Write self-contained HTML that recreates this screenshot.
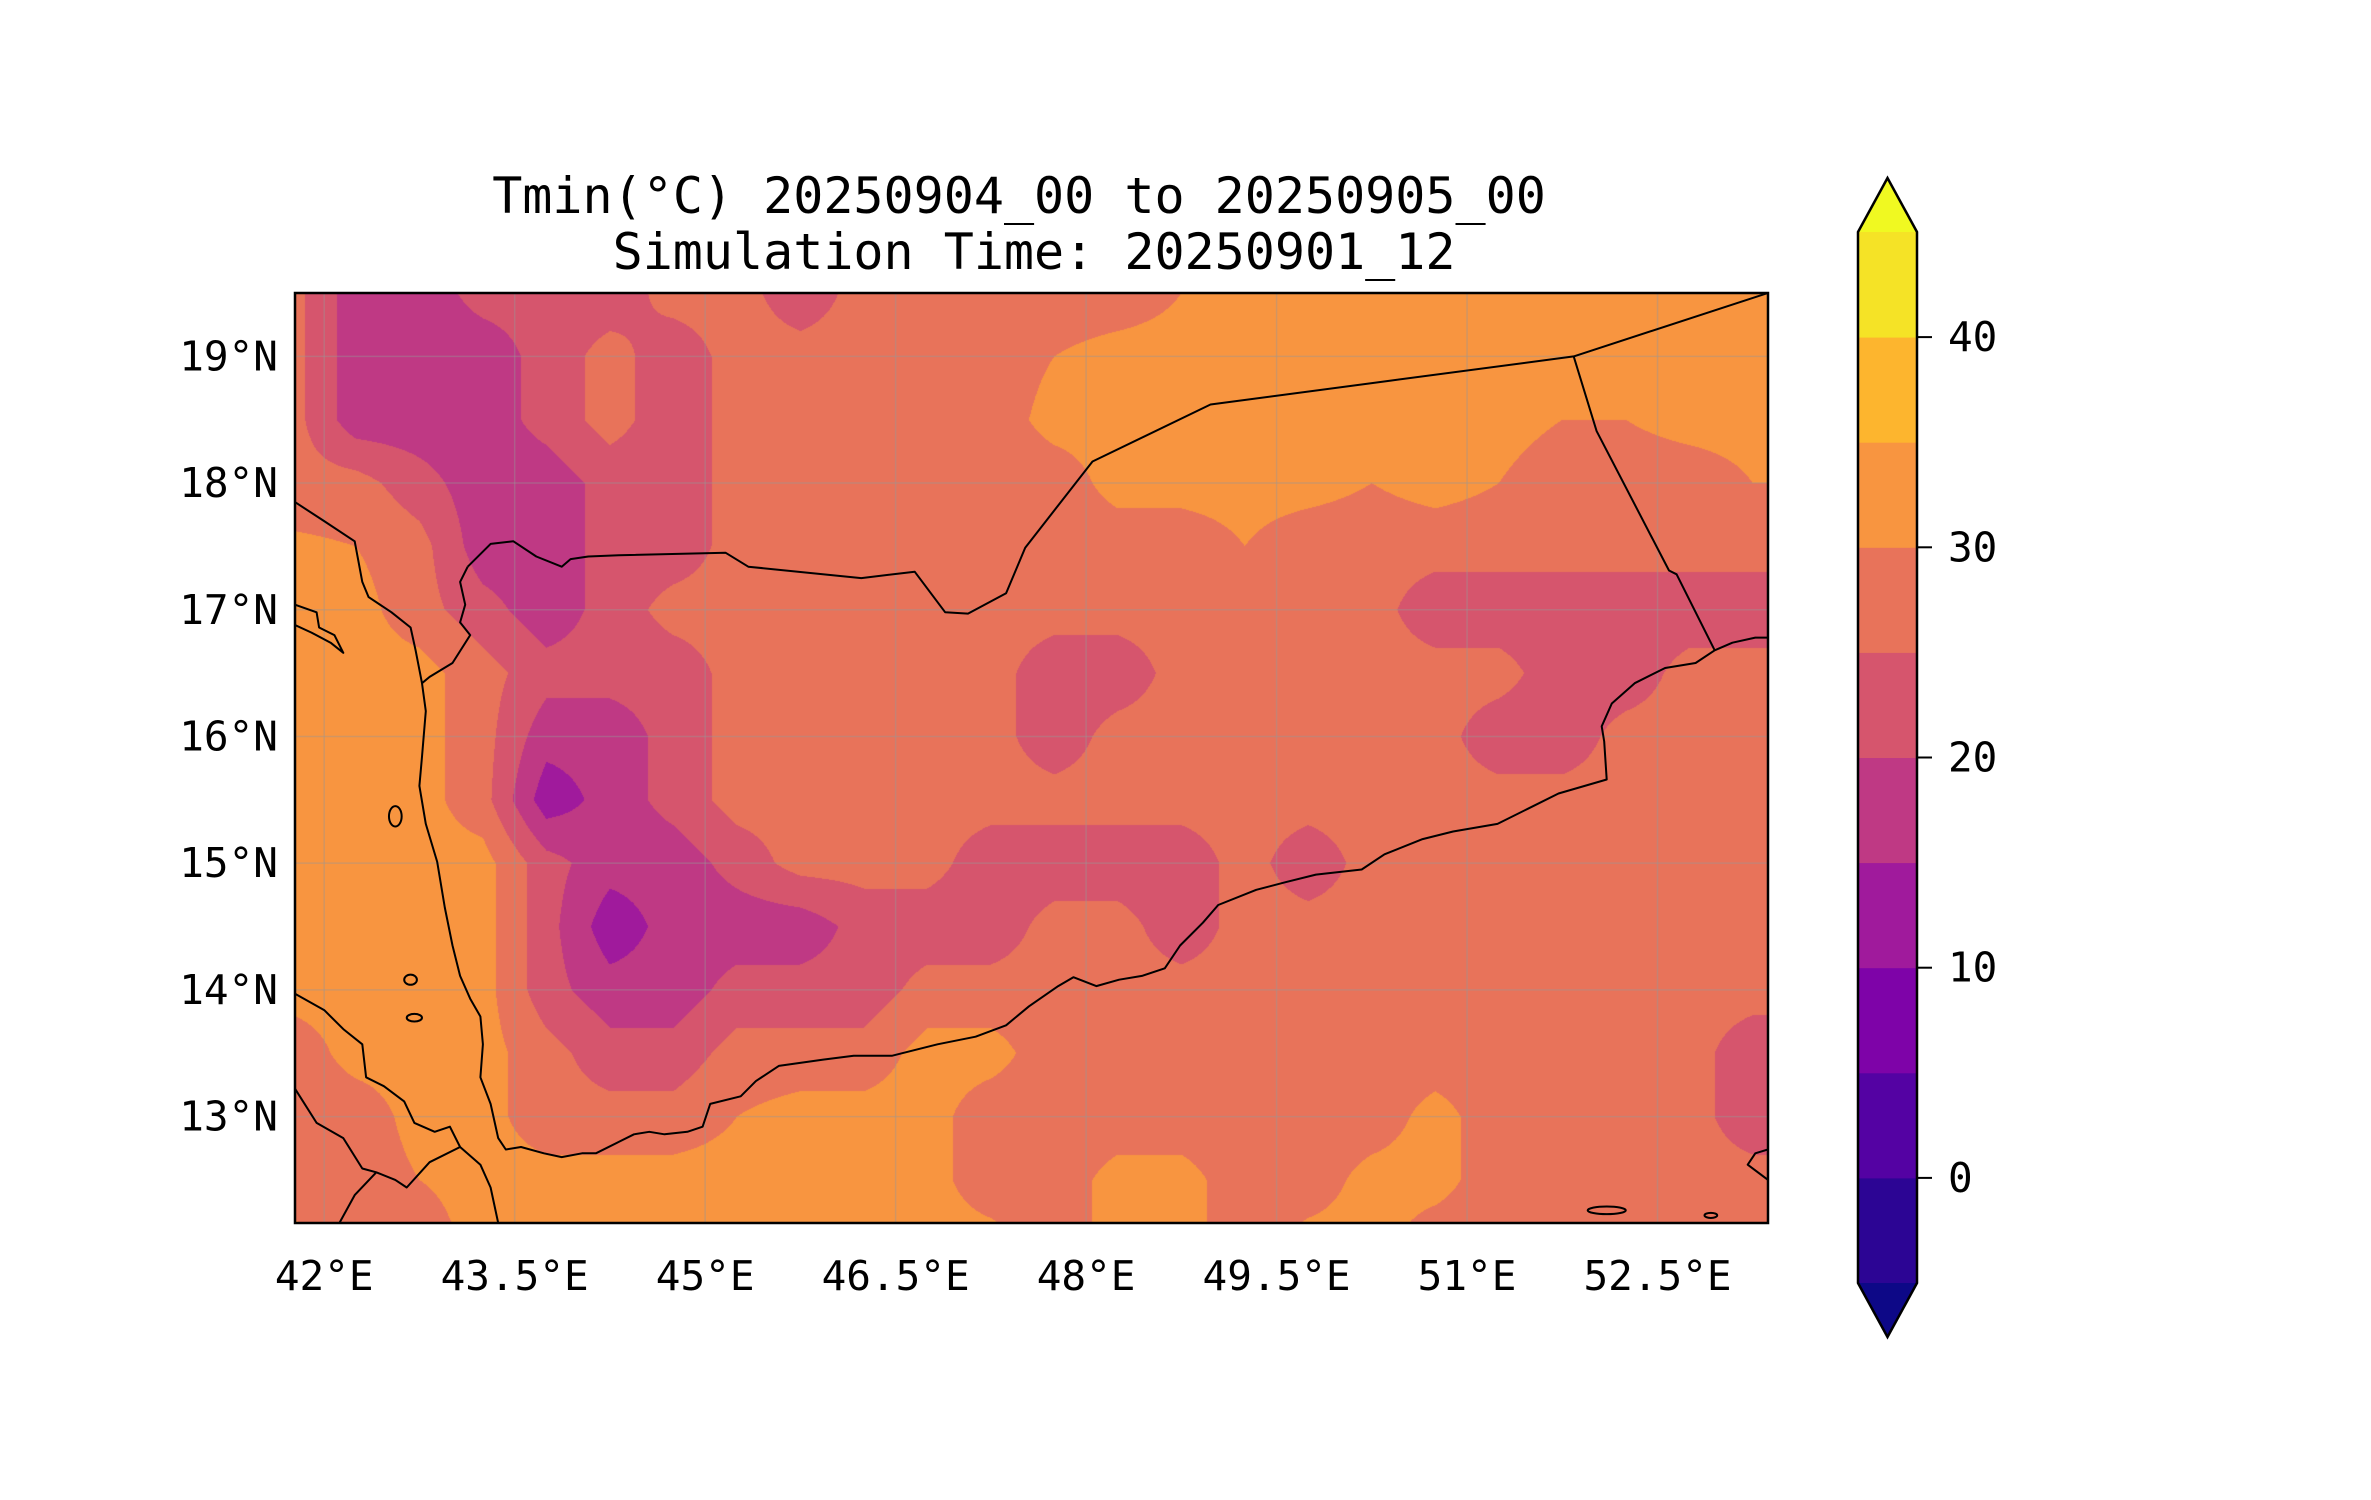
<!DOCTYPE html>
<html><head><meta charset="utf-8">
<style>
html,body{margin:0;padding:0;background:#fff;}
#wrap{position:relative;width:2371px;height:1500px;overflow:hidden;font-family:"DejaVu Sans Mono","Liberation Mono",monospace;}
canvas{position:absolute;left:295px;top:293px;}
svg{position:absolute;left:0;top:0;}
</style></head>
<body>
<div id="wrap">
<canvas id="field" width="1473" height="930"></canvas>
<svg id="ov" width="2371" height="1500"></svg>
</div>
<script>
// ---- data ----
const gridLon0 = 41.75, gridDLon = 0.5;
const gridLats = [19.5,19,18.5,18,17.5,17,16.5,16,15.5,15,14.5,14,13.5,13,12.5,12];
const tminGrid = [
[27,17,17,22,22,22,27,27,22,27,27,27,27,27,30,32,32,32,32,32,32,32,32,32,32],
[27,17,17,17,22,27,22,27,27,27,27,27,30,32,32,32,32,32,32,32,30,32,32,32,32],
[27,17,17,17,22,27,22,27,27,27,27,27,32,32,32,32,32,32,32,32,30,30,32,32,32],
[27,27,22,17,17,22,22,27,27,27,27,27,27,32,32,32,32,30,32,30,27,27,27,30,30],
[31,30,27,17,17,22,22,27,27,27,27,27,27,27,27,30,27,27,27,27,27,27,27,27,27],
[32,32,27,22,17,22,27,27,27,27,27,27,27,27,27,27,27,27,22,22,22,22,22,22,22],
[32,32,32,27,22,22,22,27,27,27,27,27,22,22,27,27,27,27,27,27,22,22,27,27,27],
[32,32,32,27,17,17,22,27,27,27,27,27,22,27,27,27,27,27,27,22,22,27,27,27,27],
[32,32,32,27,12,17,22,27,27,27,27,27,27,27,27,27,27,27,27,27,27,27,27,27,27],
[32,32,32,32,22,17,17,22,27,27,27,22,22,22,22,27,22,27,27,27,27,27,27,27,27],
[32,32,32,32,22,12,17,17,17,22,22,22,27,27,22,27,27,27,27,27,27,27,27,27,27],
[32,32,32,32,22,17,17,22,22,22,27,27,27,27,27,27,27,27,27,27,27,27,27,27,27],
[27,32,32,32,27,22,22,27,27,27,32,32,27,27,27,27,27,27,27,27,27,27,27,22,22],
[27,27,32,32,27,27,27,30,32,32,32,27,27,27,27,27,27,27,32,27,27,27,27,22,22],
[27,27,30,32,32,32,32,32,32,32,32,27,27,32,32,27,27,32,32,27,27,27,27,27,27],
[32,27,27,32,32,32,32,32,32,32,32,32,27,32,32,27,32,32,27,27,27,27,27,27,27]
];
const levels = [-5,0,5,10,15,20,25,30,35,40,45];
const bandColors = ["#0d0887","#2c0594","#5402a3","#7e03a8","#a01a9c","#bf3984","#d6556d","#e8735a","#f89540","#fdb52e","#f5e326","#f0f921"];
const cbTicks = [0,10,20,30,40];
const lonTicks = [42,43.5,45,46.5,48,49.5,51,52.5];
const latTicks = [13,14,15,16,17,18,19];
const borderSY = [[43.13,17.34],[43.31,17.52],[43.49,17.54],[43.67,17.42],[43.87,17.34],[43.94,17.40],[44.08,17.42],[44.32,17.43],[45.16,17.45],[45.34,17.34],[46.23,17.25],[46.65,17.30],[46.89,16.98],[47.07,16.97],[47.37,17.13],[47.52,17.49],[48.05,18.17],[48.98,18.62],[51.84,19.00],[53.37,19.50]];
const borderOman = [[51.84,19.00],[52.02,18.41],[52.59,17.31],[52.65,17.28],[52.95,16.68]];
const borderWest = [[43.13,17.34],[43.07,17.22],[43.11,17.04],[43.07,16.90],[43.15,16.80],[43.01,16.58],[42.83,16.47],[42.77,16.42]];
const coastArabia = [[41.77,17.85],[42.0,17.70],[42.24,17.54],[42.30,17.22],[42.35,17.10],[42.53,16.98],[42.68,16.86],[42.72,16.68],[42.77,16.42],[42.80,16.20],[42.77,15.84],[42.75,15.61],[42.80,15.31],[42.89,15.01],[42.95,14.65],[43.01,14.35],[43.07,14.11],[43.15,13.93],[43.23,13.79],[43.25,13.57],[43.23,13.31],[43.31,13.10],[43.37,12.83],[43.43,12.74],[43.55,12.76],[43.73,12.71],[43.87,12.68],[44.03,12.71],[44.14,12.71],[44.32,12.80],[44.44,12.86],[44.56,12.88],[44.68,12.86],[44.86,12.88],[44.98,12.92],[45.04,13.10],[45.28,13.16],[45.40,13.28],[45.58,13.40],[45.93,13.45],[46.17,13.48],[46.47,13.48],[46.83,13.57],[47.13,13.63],[47.37,13.72],[47.55,13.87],[47.78,14.03],[47.90,14.10],[48.08,14.03],[48.26,14.08],[48.44,14.11],[48.62,14.17],[48.74,14.35],[48.92,14.53],[49.04,14.67],[49.34,14.79],[49.57,14.85],[49.81,14.91],[50.17,14.95],[50.35,15.07],[50.65,15.19],[50.89,15.25],[51.24,15.31],[51.48,15.43],[51.72,15.55],[52.10,15.66],[52.08,15.96],[52.06,16.08],[52.14,16.26],[52.32,16.42],[52.56,16.54],[52.80,16.58],[52.95,16.68],[53.09,16.74],[53.27,16.78],[53.39,16.78]];
const coastAfrica = [[41.77,13.97],[42.0,13.84],[42.15,13.69],[42.30,13.57],[42.33,13.31],[42.47,13.24],[42.63,13.12],[42.71,12.95],[42.87,12.88],[42.99,12.92],[43.07,12.76],[43.23,12.62],[43.31,12.44],[43.37,12.16]];
const borderAfricaB = [[41.77,13.22],[41.94,12.95],[42.15,12.83],[42.30,12.59],[42.41,12.56],[42.56,12.50],[42.65,12.44],[42.83,12.64],[43.07,12.76]];
const borderAfricaC = [[42.41,12.56],[42.24,12.38],[42.12,12.16]];
const socotra = [[53.37,12.74],[53.27,12.71],[53.21,12.62],[53.37,12.50]];
const dahlak = [[41.77,17.04],[41.94,16.98],[41.96,16.86],[42.08,16.80],[42.15,16.66],[42.05,16.74],[41.90,16.82],[41.77,16.88]];
const islands = [[42.56,15.37,0.05,0.08],[42.68,14.08,0.05,0.04],[42.71,13.78,0.06,0.03],[52.10,12.26,0.15,0.03],[52.92,12.22,0.05,0.02]];

// ---- axes ----
const MX0=295,MY0=293,MW=1473,MH=930;
const LON0=41.77,LON1=53.37,LAT0=12.16,LAT1=19.5;
function xOf(lon){return MX0+(lon-LON0)/(LON1-LON0)*MW;}
function yOf(lat){return MY0+(LAT1-lat)/(LAT1-LAT0)*MH;}
const CBX=1858,CBW=59,CBV0=-5,CBV1=45,CBY0=232,CBY1=1283;
function cbY(v){return CBY1-(v-CBV0)/(CBV1-CBV0)*(CBY1-CBY0);}
function band(v){let i=0;while(i<levels.length&&v>=levels[i])i++;return bandColors[i];}

// ---- field ----
(function(){
  const c=document.getElementById('field'),ctx=c.getContext('2d');
  const img=ctx.createImageData(MW,MH),d=img.data;
  const cache={};
  function rgb(h){if(!cache[h])cache[h]=[parseInt(h.substr(1,2),16),parseInt(h.substr(3,2),16),parseInt(h.substr(5,2),16)];return cache[h];}
  const nr=gridLats.length,nc=tminGrid[0].length;
  for(let py=0;py<MH;py++){
    const lat=LAT1-(py+0.5)/MH*(LAT1-LAT0);
    let fr=(gridLats[0]-lat)/(gridLats[0]-gridLats[1]);
    fr=Math.max(0,Math.min(nr-1.0001,fr));const r=Math.floor(fr),tr=fr-r;
    for(let px=0;px<MW;px++){
      const lon=LON0+(px+0.5)/MW*(LON1-LON0);
      let fc=(lon-gridLon0)/gridDLon;fc=Math.max(0,Math.min(nc-1.0001,fc));
      const k=Math.floor(fc),tc=fc-k;
      const v=(tminGrid[r][k]*(1-tc)+tminGrid[r][k+1]*tc)*(1-tr)+(tminGrid[r+1][k]*(1-tc)+tminGrid[r+1][k+1]*tc)*tr;
      const col=rgb(band(v));const o=(py*MW+px)*4;
      d[o]=col[0];d[o+1]=col[1];d[o+2]=col[2];d[o+3]=255;
    }
  }
  ctx.putImageData(img,0,0);
})();

// ---- overlay ----
const NS='http://www.w3.org/2000/svg';
const svg=document.getElementById('ov');
function mk(tag,attrs,parent){const e=document.createElementNS(NS,tag);for(const k in attrs)e.setAttribute(k,attrs[k]);(parent||svg).appendChild(e);return e;}
function pts(arr){return arr.map(p=>xOf(p[0]).toFixed(1)+','+yOf(p[1]).toFixed(1)).join(' ');}

const grid=mk('g',{});


lonTicks.forEach(l=>{const ln=mk('line',{x1:xOf(l),x2:xOf(l),y1:MY0,y2:MY0+MH,stroke:'rgba(150,150,150,0.4)','stroke-width':1.5},grid);

});
latTicks.forEach(l=>{const ln=mk('line',{x1:MX0,x2:MX0+MW,y1:yOf(l),y2:yOf(l),stroke:'rgba(150,150,150,0.4)','stroke-width':1.5},grid);

});

const clip=mk('clipPath',{id:'mapclip'});
mk('rect',{x:MX0,y:MY0,width:MW,height:MH},clip);
const geo=mk('g',{fill:'none',stroke:'#000','stroke-width':2,'stroke-linejoin':'round','clip-path':'url(#mapclip)'});


[[borderSY,'saudi-yemen-border'],[borderOman,'yemen-oman-border'],[borderWest,'border-west'],[coastArabia,'arabia-coastline'],[coastAfrica,'africa-coastline'],[borderAfricaB,'africa-border'],[borderAfricaC,'africa-border-2'],[socotra,'socotra-coast'],[dahlak,'dahlak-islands']].forEach(a=>{
  const pl=mk('polyline',{points:pts(a[0])},geo);
  
  
});
islands.forEach(s=>{const e=mk('ellipse',{cx:xOf(s[0]),cy:yOf(s[1]),rx:s[2]*127,ry:s[3]*127},geo);

});

const frame=mk('rect',{x:MX0,y:MY0,width:MW,height:MH,fill:'none',stroke:'#000','stroke-width':2.5});



function txt(s,x,y,size,anchor,name){const t=mk('text',{x:x,y:y,'font-size':size,'text-anchor':anchor,'dominant-baseline':'central','font-family':'DejaVu Sans Mono, Liberation Mono, monospace',fill:'#000'});t.textContent=s;

return t;}
txt('Tmin(°C) 20250904_00 to 20250905_00',1019,196,50,'middle','chart-title');
txt('\u00a0Simulation Time: 20250901_12',1019,252,50,'middle','chart-subtitle');
lonTicks.forEach(l=>txt(l+'°E',xOf(l),1276,41,'middle','x-tick-label'));
latTicks.forEach(l=>txt(l+'°N',278,yOf(l),41,'end','y-tick-label'));

// colorbar
const cb=mk('g',{});


for(let i=0;i<levels.length-1;i++){
  const r=mk('rect',{x:CBX,y:cbY(levels[i+1]),width:CBW,height:cbY(levels[i])-cbY(levels[i+1])+0.5,fill:bandColors[i+1]},cb);
  
  
}
const tipTop=mk('polygon',{points:`${CBX},${CBY0} ${CBX+CBW/2},${CBY0-54} ${CBX+CBW},${CBY0}`,fill:bandColors[bandColors.length-1]},cb);


const tipBot=mk('polygon',{points:`${CBX},${CBY1} ${CBX+CBW/2},${CBY1+54} ${CBX+CBW},${CBY1}`,fill:bandColors[0]},cb);


const outline=mk('polygon',{points:`${CBX},${CBY0} ${CBX+CBW/2},${CBY0-54} ${CBX+CBW},${CBY0} ${CBX+CBW},${CBY1} ${CBX+CBW/2},${CBY1+54} ${CBX},${CBY1}`,fill:'none',stroke:'#000','stroke-width':2.5},cb);


cbTicks.forEach(v=>{
  const t=mk('line',{x1:CBX+CBW,x2:CBX+CBW+15,y1:cbY(v),y2:cbY(v),stroke:'#000','stroke-width':2},cb);
  
  
  txt(String(v),1948,cbY(v),41,'start','colorbar-tick-label');
});
</script>
</body></html>
